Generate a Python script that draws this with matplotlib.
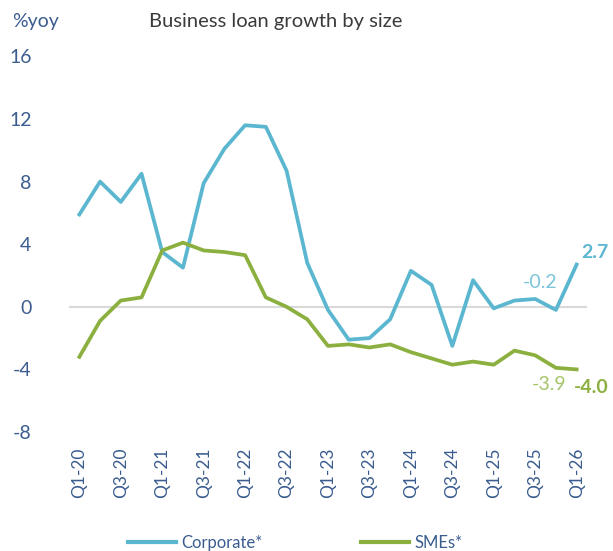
import matplotlib
matplotlib.use("Agg")
import matplotlib.pyplot as plt

quarters = ["Q1-20", "Q2-20", "Q3-20", "Q4-20", "Q1-21", "Q2-21", "Q3-21", "Q4-21",
            "Q1-22", "Q2-22", "Q3-22", "Q4-22", "Q1-23", "Q2-23", "Q3-23", "Q4-23",
            "Q1-24", "Q2-24", "Q3-24", "Q4-24", "Q1-25", "Q2-25", "Q3-25", "Q4-25",
            "Q1-26"]
corporate = [5.9, 8.0, 6.7, 8.5, 3.5, 2.5, 7.9, 10.1, 11.6, 11.5, 8.7, 2.8, -0.2,
             -2.1, -2.0, -0.8, 2.3, 1.4, -2.5, 1.7, -0.1, 0.4, 0.5, -0.2, 2.7]
smes = [-3.2, -0.9, 0.4, 0.6, 3.6, 4.1, 3.6, 3.5, 3.3, 0.6, 0.0, -0.8, -2.5,
        -2.4, -2.6, -2.4, -2.9, -3.3, -3.7, -3.5, -3.7, -2.8, -3.1, -3.9, -4.0]
yticks = [-8, -4, 0, 4, 8, 12, 16]

C_CORP = "#5BB6CF"
C_SME = "#8CB040"
C_TEXT = "#3A5C8F"
FONT = "Lato"

fig = plt.figure(figsize=(6.13, 5.51), dpi=100)
ax = fig.add_axes([69 / 613, 1 - 432 / 551, 518 / 613, 375.6 / 551])

x = list(range(len(quarters)))
ax.axhline(0, color="#D9D9D9", lw=1.5, zorder=1)
ax.plot(x, corporate, color=C_CORP, lw=2.7, label="Corporate*", zorder=3,
        solid_joinstyle="round")
ax.plot(x, smes, color=C_SME, lw=2.7, label="SMEs*", zorder=3,
        solid_joinstyle="round")

ax.set_xlim(-0.5, len(quarters) - 0.5)
ax.set_ylim(-8, 16)
ax.set_yticks(yticks)
ax.set_yticklabels([str(v) for v in yticks], fontsize=14, color=C_TEXT, family=FONT)
ax.set_xticks(x[::2])
ax.set_xticklabels(quarters[::2], rotation=90, fontsize=12.5, color=C_TEXT,
                   family=FONT, va="top")
ax.tick_params(axis="y", length=0, pad=27)
ax.tick_params(axis="x", length=0, pad=11)
for s in ax.spines.values():
    s.set_visible(False)

# End-of-series labels
ax.annotate(f"{corporate[-1]:.1f}", (x[-1], corporate[-1]), xytext=(3, 9),
            textcoords="offset points", ha="left", va="center", fontsize=14,
            fontweight="bold", color=C_CORP, family=FONT)
ax.annotate(f"{corporate[-2]:.1f}", (x[-2], corporate[-2]), xytext=(1, 20),
            textcoords="offset points", ha="right", va="center", fontsize=14,
            color="#7CC4DA", family=FONT)
ax.annotate(f"{smes[-2]:.1f}", (x[-2], smes[-2]), xytext=(-5, -12),
            textcoords="offset points", ha="center", va="center", fontsize=14,
            color="#A6C46A", family=FONT)
ax.annotate(f"{smes[-1]:.1f}", (x[-1], smes[-1]), xytext=(-2, -13),
            textcoords="offset points", ha="left", va="center", fontsize=14,
            fontweight="bold", color=C_SME, family=FONT)

fig.text(12 / 613, 1 - 21 / 551, "%yoy", fontsize=14, color=C_TEXT, family=FONT,
         ha="left", va="center")
fig.text(276 / 613, 1 - 21 / 551, "Business loan growth by size", fontsize=14.5,
         color="#3A3A3A", family=FONT, ha="center", va="center")

leg = fig.legend(loc="center", bbox_to_anchor=(295 / 613, 1 - 543 / 551), ncol=2,
                 frameon=False, handlelength=2.9, handletextpad=0.3,
                 columnspacing=5.9, prop={"family": FONT, "size": 12})
for t in leg.get_texts():
    t.set_color(C_TEXT)
for h in leg.get_lines():
    h.set_linewidth(3)

fig.savefig("out.png", dpi=100)
